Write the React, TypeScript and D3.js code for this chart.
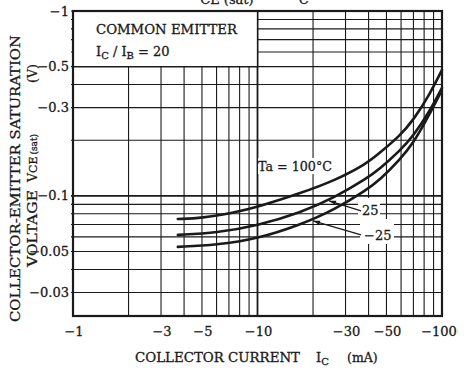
import * as d3 from "d3";
import React from "react";

// collector current (mA, absolute) vs VCE(sat) (V, absolute)
const curveHot = [
  [3.7, 0.075], [5, 0.0758], [7.4, 0.081], [10, 0.087], [17, 0.1032], [26, 0.1205],
  [39, 0.149], [46, 0.171], [59, 0.211], [70, 0.257], [86, 0.356], [100, 0.48],
];
const curveRoom = [
  [3.7, 0.0615], [6, 0.0631], [10, 0.069], [17, 0.081], [26, 0.0976], [39, 0.124],
  [46, 0.14], [59, 0.175], [70, 0.211], [86, 0.288], [100, 0.384],
];
const curveCold = [
  [3.7, 0.053], [6, 0.0543], [10, 0.0586], [17, 0.0697], [26, 0.084], [39, 0.1077],
  [46, 0.122], [59, 0.1566], [70, 0.193], [83, 0.261], [97.5, 0.356],
];

const xTicks = [1, 3, 5, 10, 30, 50, 100];
const yTicks = [1, 0.5, 0.3, 0.1, 0.05, 0.03];
const xGrid = [1, 2, 3, 4, 5, 6, 7, 8, 9, 10, 20, 30, 40, 50, 60, 70, 80, 90, 100];
const yGrid = [0.03, 0.04, 0.05, 0.06, 0.07, 0.08, 0.09, 0.1, 0.2, 0.3, 0.4, 0.5, 0.6, 0.7, 0.8, 0.9, 1];

// annotation leaders: [tip, tail] in data units
const leader25 = [[24.4, 0.094], [36.4, 0.083]];
const leaderM25 = [[20, 0.0733], [36.4, 0.0615]];

const W = 464;
const H = 374;
const margin = { left: 73, right: 22, top: 11, bottom: 58 };
const font = "'DejaVu Serif', serif";
const ink = "#1a1a1a";
const txt = { fontFamily: font, fill: ink, stroke: ink, strokeWidth: 0.3 };

export default function App() {
  const x = d3.scaleLog().domain([1, 100]).range([margin.left, W - margin.right]);
  const y = d3.scaleLog().domain([0.0224, 1]).range([H - margin.bottom, margin.top]);
  const x0 = margin.left;
  const x1 = W - margin.right;
  const y0 = margin.top;
  const y1 = H - margin.bottom;

  const line = d3
    .line<number[]>()
    .x((d) => x(d[0]))
    .y((d) => y(d[1]))
    .curve(d3.curveBasis);

  const fmt = (v: number) => "\u2212" + v;

  const arrow = (pts: number[][]) => {
    const [tx, ty] = [x(pts[0][0]), y(pts[0][1])];
    const [ex, ey] = [x(pts[1][0]), y(pts[1][1])];
    const a = Math.atan2(ey - ty, ex - tx);
    const L = 7, w = 2.2;
    const bx = tx + Math.cos(a) * L, by = ty + Math.sin(a) * L;
    const p1 = [bx - Math.sin(a) * w, by + Math.cos(a) * w];
    const p2 = [bx + Math.sin(a) * w, by - Math.cos(a) * w];
    return (
      <g>
        <line x1={tx} y1={ty} x2={ex} y2={ey} stroke={ink} strokeWidth={1.2} />
        <polygon points={`${tx},${ty} ${p1[0]},${p1[1]} ${p2[0]},${p2[1]}`} fill={ink} />
      </g>
    );
  };

  return (
    <svg width={W} height={H} style={{ position: "absolute", left: 0, top: 0, background: "#fff" }}>
      <rect width={W} height={H} fill="#fff" />

      {/* title, cut off by the top edge as in the scan */}
      <text x={188} y={-2} fontSize={17} {...txt}>
        V<tspan fontSize={13} dy={6}>CE (sat)</tspan>
        <tspan fontSize={17} dy={-6} dx={16}>{"\u2014"}  I</tspan>
        <tspan fontSize={13} dy={6}>C</tspan>
      </text>

      {/* grid */}
      <g stroke={ink} strokeWidth={1.1}>
        {xGrid.map((v) => (
          <line key={"gx" + v} x1={x(v)} x2={x(v)} y1={y0} y2={y1} strokeWidth={v === 10 ? 1.8 : 1.1} />
        ))}
        {yGrid.map((v) => (
          <line key={"gy" + v} x1={x0 - 2} x2={x1} y1={y(v)} y2={y(v)} strokeWidth={v === 0.1 ? 1.6 : 1.1} />
        ))}
      </g>

      {/* legend box */}
      <rect x={x0} y={y0} width={x(10) - x0} height={y(0.5) - y0} fill="#fff" stroke={ink} strokeWidth={1.3} />
      <text x={96} y={34} fontSize={12.5} {...txt} textLength={141} lengthAdjust="spacingAndGlyphs">
        COMMON EMITTER
      </text>
      <text x={96} y={56} fontSize={13} {...txt}>
        I<tspan fontSize={10} dy={3}>C</tspan>
        <tspan fontSize={13} dy={-3}> / I</tspan>
        <tspan fontSize={10} dy={3}>B</tspan>
        <tspan fontSize={13} dy={-3}> = 20</tspan>
      </text>

      {/* label backgrounds */}
      <rect x={258} y={158} width={76} height={16} fill="#fff" />
      <rect x={358} y={198} width={22} height={21} fill="#fff" />
      <rect x={360} y={219} width={34} height={25} fill="#fff" />

      {/* curves */}
      <g fill="none" stroke={ink} strokeWidth={2.6} strokeLinecap="round">
        <path d={line(curveHot) ?? ""} />
        <path d={line(curveRoom) ?? ""} />
        <path d={line(curveCold) ?? ""} />
      </g>

      {arrow(leader25)}
      {arrow(leaderM25)}

      <text x={258} y={171} fontSize={13} {...txt} textLength={74} lengthAdjust="spacingAndGlyphs">
        Ta = 100°C
      </text>
      <text x={362} y={215} fontSize={13} {...txt}>25</text>
      <text x={364} y={240} fontSize={13} {...txt}>{"\u221225"}</text>

      {/* frame */}
      <rect x={x0} y={y0} width={x1 - x0} height={y1 - y0} fill="none" stroke={ink} strokeWidth={2.2} />

      {/* y tick labels */}
      {yTicks.map((v) => (
        <text key={"yt" + v} x={69} y={y(v) + 4.5} textAnchor="end" fontSize={13} {...txt}>
          {fmt(v)}
        </text>
      ))}

      {/* x tick labels */}
      {xTicks.map((v) => (
        <text key={"xt" + v} x={x(v) + (v === 100 ? -3 : 1)} y={336} textAnchor="middle" fontSize={13} {...txt}>
          {fmt(v)}
        </text>
      ))}

      {/* x axis title */}
      <text x={135} y={362} fontSize={12.5} {...txt} textLength={165} lengthAdjust="spacingAndGlyphs">
        COLLECTOR CURRENT
      </text>
      <text x={316} y={362} fontSize={13} {...txt}>
        I<tspan fontSize={10} dy={3}>C</tspan>
      </text>
      <text x={347} y={362} fontSize={12.5} {...txt}>(mA)</text>

      {/* y axis title */}
      <g transform="rotate(-90)">
        <text x={-322} y={20} fontSize={12.5} {...txt} textLength={287} lengthAdjust="spacingAndGlyphs">
          COLLECTOR-EMITTER SATURATION
        </text>
        <text x={-267} y={37} fontSize={12.5} {...txt} textLength={77} lengthAdjust="spacingAndGlyphs">
          VOLTAGE
        </text>
        <text x={-182} y={37} fontSize={12.5} {...txt}>
          V<tspan fontSize={11}>CE</tspan>
          <tspan fontSize={9} dx={2}>(sat)</tspan>
        </text>
        <text x={-83} y={37} fontSize={12.5} {...txt}>(V)</text>
      </g>
    </svg>
  );
}
